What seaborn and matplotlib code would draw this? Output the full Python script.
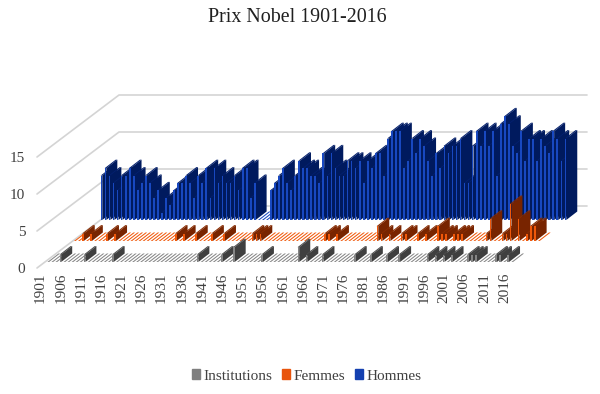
import matplotlib
matplotlib.use("Agg")
import matplotlib.pyplot as plt
import seaborn as sns
from matplotlib.patches import Patch

# Values, one per year
years = list(range(1901, 2017))
hommes = [6, 7, 6, 5, 4, 6, 6, 7, 6, 4,
          5, 6, 5, 3, 4, 1, 3, 2, 4, 5,
          5, 6, 5, 3, 6, 5, 7, 3, 7, 5,
          6, 5, 5, 6, 4, 7, 7, 3, 5, 0,
          0, 0, 4, 5, 6, 7, 5, 4, 6, 8,
          7, 7, 6, 6, 5, 9, 6, 9, 7, 6,
          6, 8, 8, 7, 8, 5, 8, 7, 9, 9,
          6, 11, 12, 12, 12, 7, 8, 11, 9, 11,
          10, 8, 6, 9, 7, 10, 9, 10, 10, 11,
          5, 5, 10, 12, 10, 12, 10, 12, 6, 13,
          14, 13, 10, 9, 12, 8, 11, 11, 8, 11,
          10, 9, 12, 11, 8, 11]
femmes_years = [1903, 1905, 1909, 1911, 1926, 1928, 1931, 1935, 1938, 1945, 1946, 1947,
                1963, 1964, 1966, 1976, 1977, 1979, 1982, 1983, 1986, 1988, 1991, 1992,
                1993, 1995, 1996, 1997, 2003, 2004, 2007, 2008, 2009, 2011, 2013, 2014, 2015]
femmes_counts = [1, 1, 1, 1, 1, 1, 1, 1, 1, 1, 1, 1,
                 1, 1, 1, 2, 1, 1, 1, 1, 1, 1, 2, 1,
                 1, 1, 1, 1, 1, 3, 1, 1, 5, 3, 1, 2, 2]
inst_years = [1904, 1910, 1917, 1938, 1944, 1947, 1954, 1963, 1965, 1969, 1977, 1981,
              1985, 1988, 1995, 1997, 1999, 2001, 2005, 2006, 2007, 2012, 2013, 2015]
inst_counts = [1, 1, 1, 1, 1, 2, 1, 2, 1, 1, 1, 1,
               1, 1, 1, 1, 1, 1, 1, 1, 1, 1, 1, 1]
femmes = [dict(zip(femmes_years, femmes_counts)).get(y, 0) for y in years]
institutions = [dict(zip(inst_years, inst_counts)).get(y, 0) for y in years]
year_labels = [str(y) for y in years[::5]]
value_ticks = [0, 5, 10, 15]

sns.set_theme(style="white")
plt.rcParams["font.family"] = ["Liberation Serif", "DejaVu Serif"]
GREY_TEXT = "#404040"

# scale of the front plane, in pixels per unit
px_x = 468 / 116
px_y = 7.4
fig = plt.figure(figsize=(6, 3.94), dpi=100)
ax = fig.add_axes([37 / 600, 126 / 394, 468 / 600, 15 * px_y / 394])

# (name, values, front, side, top, shift right px, shift up px)
series = [
    ("Hommes", hommes, "#1848c0", "#001a5e", "#04206e", 63.6, 48),
    ("Femmes", femmes, "#f0580a", "#782400", "#8a2c00", 37.0, 27),
    ("Institutions", institutions, "#858585", "#3f3f3f", "#4c4c4c", 10.4, 6),
]
bar_w = 0.42
depth_x = 11 / px_x
depth_y = 8.5 / px_y

# back walls
wall_x = 82 / px_x
wall_y = 62 / px_y
for v in value_ticks:
    ax.plot([0, wall_x, 116 + wall_x], [v, v + wall_y, v + wall_y],
            color="#d4d4d4", lw=1.2, clip_on=False, zorder=1)

for r, (name, vals, front, side, top, sx, sy) in enumerate(series):
    base = 10 + r * 10
    sx_u, sy_u = sx / px_x, sy / px_y
    sns.barplot(x=[i + 0.5 for i in range(len(vals))], y=vals, native_scale=True,
                color=front, saturation=1, width=bar_w, ax=ax, linewidth=0)
    bars = ax.containers[-1]
    for i, (bar, v) in enumerate(zip(bars, vals)):
        x0 = i + sx_u
        x1 = x0 + bar_w
        y0 = sy_u
        bar.set_x(x0)
        bar.set_y(y0)
        bar.set_clip_on(False)
        bar.set_zorder(base + i * 0.01 + 0.002)
        # top face, also drawn for the empty years
        ax.fill([x0, x1, x1 + depth_x, x0 + depth_x],
                [y0 + v, y0 + v, y0 + v + depth_y, y0 + v + depth_y],
                color=top if v else front, lw=0, clip_on=False, zorder=base + i * 0.01)
        if v:
            # side face
            ax.fill([x1, x1 + depth_x, x1 + depth_x, x1],
                    [y0, y0 + depth_y, y0 + v + depth_y, y0 + v],
                    color=side, lw=0, clip_on=False, zorder=base + i * 0.01 + 0.001)

ax.set_xlim(0, 116)
ax.set_ylim(0, 15)
ax.set_xticks([i + 0.9 for i in range(0, 116, 5)])
ax.set_xticklabels(year_labels, rotation=90, fontsize=11, color=GREY_TEXT)
ax.set_yticks(value_ticks)
ax.set_yticklabels(value_ticks, fontsize=11, color=GREY_TEXT)
ax.tick_params(axis="x", length=0, pad=3.5)
ax.tick_params(axis="y", length=0, pad=8.5)
ax.set_xlabel("")
ax.set_ylabel("")
ax.patch.set_alpha(0)
sns.despine(ax=ax, left=True, bottom=True)

fig.text(297 / 600, 1 - 18 / 394, "Prix Nobel 1901-2016", ha="center", va="center",
         fontsize=14.4, color="#202020")

handles = [Patch(color="#7f7f7f", label="Institutions"),
           Patch(color="#e8540c", label="Femmes"),
           Patch(color="#1440b0", label="Hommes")]
fig.legend(handles=handles, ncol=3, loc="center", bbox_to_anchor=(306.5 / 600, 1 - 376 / 394),
           frameon=False, fontsize=11, handlelength=0.55, handleheight=0.55,
           handletextpad=0.2, columnspacing=0.65, labelcolor=GREY_TEXT)

fig.savefig("out.png", dpi=100)
